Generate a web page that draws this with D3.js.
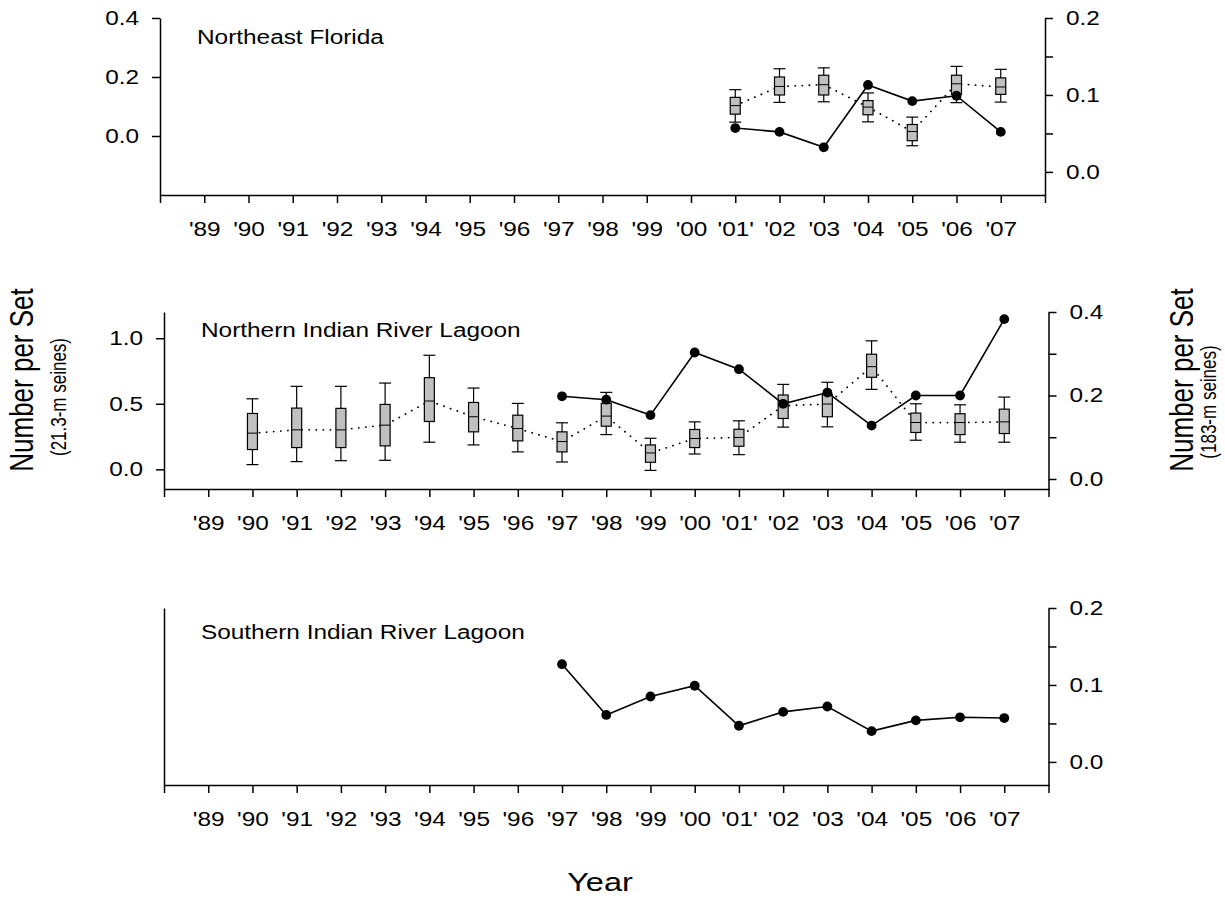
<!DOCTYPE html>
<html>
<head>
<meta charset="utf-8">
<script src="https://cdn.jsdelivr.net/npm/d3@7"></script>
<style>
  body { margin: 0; background: #fff; }
  text { font-family: "Liberation Sans", Arial, sans-serif; fill: #000; }
</style>
</head>
<body>
<div id="chart"></div>
<script>
// year tick labels ('01' really has the trailing quote in the original)
const yearTicks = d3.range(1988, 2009);
const yearLabels = ["'89","'90","'91","'92","'93","'94","'95","'96","'97","'98","'99",
                    "'00","'01'","'02","'03","'04","'05","'06","'07"];

// Northeast Florida
const nefBoxYears = [2001, 2002, 2003, 2004, 2005, 2006, 2007];
const nefHigh = [0.157, 0.228, 0.231, 0.146, 0.064, 0.236, 0.226];
const nefQ3   = [0.131, 0.200, 0.206, 0.120, 0.039, 0.206, 0.197];
const nefMed  = [0.103, 0.168, 0.174, 0.098, 0.015, 0.177, 0.166];
const nefQ1   = [0.074, 0.139, 0.139, 0.072, -0.016, 0.141, 0.141];
const nefLow  = [0.047, 0.114, 0.116, 0.048, -0.033, 0.113, 0.115];
const nefLineYears = [2001, 2002, 2003, 2004, 2005, 2006, 2007];
const nefLine = [0.057, 0.052, 0.032, 0.113, 0.092, 0.099, 0.052];

// Northern Indian River Lagoon
const nirlBoxYears = d3.range(1990, 2008);
const nirlHigh = [0.538,0.633,0.633,0.658,0.870,0.620,0.503,0.355,0.587,0.237,0.362,0.370,0.648,0.664,0.980,0.500,0.492,0.551];
const nirlQ3   = [0.426,0.467,0.465,0.495,0.699,0.510,0.413,0.286,0.503,0.186,0.304,0.306,0.567,0.572,0.878,0.429,0.424,0.459];
const nirlMed  = [0.276,0.301,0.301,0.337,0.521,0.401,0.311,0.212,0.406,0.125,0.235,0.243,0.485,0.498,0.783,0.357,0.357,0.362];
const nirlQ1   = [0.151,0.166,0.166,0.179,0.365,0.286,0.217,0.133,0.329,0.054,0.166,0.176,0.388,0.401,0.702,0.281,0.265,0.273];
const nirlLow  = [0.036,0.059,0.066,0.069,0.207,0.186,0.133,0.056,0.265,-0.008,0.117,0.112,0.322,0.324,0.610,0.222,0.207,0.207];
const nirlLineYears = d3.range(1997, 2008);
const nirlLine = [0.198, 0.190, 0.153, 0.303, 0.263, 0.180, 0.207, 0.128, 0.200, 0.200, 0.383];

// Southern Indian River Lagoon (183-m seines only)
const sirlLineYears = d3.range(1997, 2008);
const sirlLine = [0.127, 0.061, 0.085, 0.099, 0.047, 0.065, 0.072, 0.040, 0.054, 0.058, 0.057];

const SX = 1.25;      // text in the original is stretched sideways
const FS = 19.5;      // tick / panel label size

const svg = d3.select("#chart").append("svg")
  .attr("width", 1225)
  .attr("height", 901);

function boxRows(years, low, q1, med, q3, high) {
  return years.map((yr, i) => ({yr, low: low[i], q1: q1[i], med: med[i], q3: q3[i], high: high[i]}));
}

function styleAxis(g) {
  g.selectAll("path, line").attr("stroke", "#000").attr("stroke-width", 1.5);
  g.selectAll("text").style("font-size", FS + "px").attr("fill", "#000")
    .each(function () {
      const t = d3.select(this);
      const x = +t.attr("x") || 0;
      t.attr("x", 0).attr("transform", `translate(${x},0) scale(${SX},1)`);
    });
}

function drawPanel(p) {
  const g = svg.append("g");
  const x = d3.scaleLinear().domain([1988, 2008]).range([p.x0, p.x1]);
  const yL = d3.scaleLinear().domain(p.leftDomain).range([p.yb, p.yt]);
  const yR = d3.scaleLinear().domain(p.rightDomain).range([p.yb, p.yt]);

  // x axis
  g.append("g")
    .attr("transform", `translate(0,${p.yb})`)
    .call(d3.axisBottom(x).tickValues(yearTicks).tickSize(8).tickSizeOuter(0).tickPadding(19)
      .tickFormat(d => (d > 1988 && d < 2008) ? yearLabels[d - 1989] : ""))
    .call(styleAxis);

  // left axis
  g.append("g")
    .attr("transform", `translate(${p.x0},0)`)
    .call(d3.axisLeft(yL).tickValues(p.leftTicks).tickSize(8).tickSizeOuter(0).tickPadding(13)
      .tickFormat(d3.format(".1f")))
    .call(styleAxis);

  // right axis, labels only on every other tick
  g.append("g")
    .attr("transform", `translate(${p.x1},0)`)
    .call(d3.axisRight(yR).tickValues(p.rightTicks).tickSize(8).tickSizeOuter(0).tickPadding(13)
      .tickFormat(d => p.rightLabels.includes(d) ? d3.format(".1f")(d) : ""))
    .call(styleAxis);

  // panel name
  g.append("text")
    .attr("transform", `translate(${p.x0 + 37},${p.titleY}) scale(${SX},1)`)
    .style("font-size", FS + "px")
    .text(p.title);

  if (p.boxes) {
    const rows = p.boxes;
    g.append("path")
      .datum(rows)
      .attr("fill", "none")
      .attr("stroke", "#000")
      .attr("stroke-width", 1.8)
      .attr("stroke-linecap", "round")
      .attr("stroke-dasharray", "0.1,7")
      .attr("d", d3.line().x(d => x(d.yr)).y(d => yL(d.med)));

    const b = g.selectAll(".box").data(rows).join("g").attr("class", "box");
    b.append("line")
      .attr("x1", d => x(d.yr)).attr("x2", d => x(d.yr))
      .attr("y1", d => yL(d.low)).attr("y2", d => yL(d.high))
      .attr("stroke", "#000").attr("stroke-width", 1.2);
    b.append("line")
      .attr("x1", d => x(d.yr) - 6).attr("x2", d => x(d.yr) + 6)
      .attr("y1", d => yL(d.high)).attr("y2", d => yL(d.high))
      .attr("stroke", "#000").attr("stroke-width", 1.2);
    b.append("line")
      .attr("x1", d => x(d.yr) - 6).attr("x2", d => x(d.yr) + 6)
      .attr("y1", d => yL(d.low)).attr("y2", d => yL(d.low))
      .attr("stroke", "#000").attr("stroke-width", 1.2);
    b.append("rect")
      .attr("x", d => x(d.yr) - 5)
      .attr("width", 10)
      .attr("y", d => yL(d.q3))
      .attr("height", d => yL(d.q1) - yL(d.q3))
      .attr("fill", "#c0c0c0").attr("stroke", "#000").attr("stroke-width", 1.2);
    b.append("line")
      .attr("x1", d => x(d.yr) - 5).attr("x2", d => x(d.yr) + 5)
      .attr("y1", d => yL(d.med)).attr("y2", d => yL(d.med))
      .attr("stroke", "#000").attr("stroke-width", 1);
  }

  const pts = p.lineYears.map((yr, i) => ({yr, v: p.lineValues[i]}));
  g.append("path")
    .datum(pts)
    .attr("fill", "none")
    .attr("stroke", "#000")
    .attr("stroke-width", 1.6)
    .attr("d", d3.line().x(d => x(d.yr)).y(d => yR(d.v)));
  g.selectAll(".pt").data(pts).join("circle")
    .attr("class", "pt")
    .attr("cx", d => x(d.yr))
    .attr("cy", d => yR(d.v))
    .attr("r", 4.9)
    .attr("fill", "#000");
}

drawPanel({
  x0: 160, x1: 1045, yt: 18, yb: 195, titleY: 44,
  title: "Northeast Florida",
  leftDomain: [-0.2, 0.4], leftTicks: [0, 0.2, 0.4],
  rightDomain: [-0.03, 0.2], rightTicks: [0, 0.05, 0.1, 0.15, 0.2], rightLabels: [0, 0.1, 0.2],
  boxes: boxRows(nefBoxYears, nefLow, nefQ1, nefMed, nefQ3, nefHigh),
  lineYears: nefLineYears, lineValues: nefLine
});

drawPanel({
  x0: 164, x1: 1048.5, yt: 312, yb: 489, titleY: 337,
  title: "Northern Indian River Lagoon",
  leftDomain: [-0.15, 1.2], leftTicks: [0, 0.5, 1.0],
  rightDomain: [-0.024, 0.4], rightTicks: [0, 0.1, 0.2, 0.3, 0.4], rightLabels: [0, 0.2, 0.4],
  boxes: boxRows(nirlBoxYears, nirlLow, nirlQ1, nirlMed, nirlQ3, nirlHigh),
  lineYears: nirlLineYears, lineValues: nirlLine
});

drawPanel({
  x0: 164, x1: 1048.5, yt: 608, yb: 785, titleY: 639,
  title: "Southern Indian River Lagoon",
  leftDomain: [0, 1], leftTicks: [],
  rightDomain: [-0.03, 0.2], rightTicks: [0, 0.05, 0.1, 0.15, 0.2], rightLabels: [0, 0.1, 0.2],
  boxes: null,
  lineYears: sirlLineYears, lineValues: sirlLine
});

// axis titles
function vText(xb, yc, size, str) {
  svg.append("text")
    .attr("transform", `translate(${xb},${yc}) scale(${SX},1) rotate(-90)`)
    .attr("text-anchor", "middle")
    .style("font-size", size + "px")
    .text(str);
}
vText(33, 380, 26, "Number per Set");
vText(66, 397, 17, "(21.3-m seines)");
vText(1193, 380, 26, "Number per Set");
vText(1216, 402, 17, "(183-m seines)");

svg.append("text")
  .attr("transform", `translate(600,891) scale(${SX},1)`)
  .attr("text-anchor", "middle")
  .style("font-size", "26px")
  .text("Year");
</script>
</body>
</html>
